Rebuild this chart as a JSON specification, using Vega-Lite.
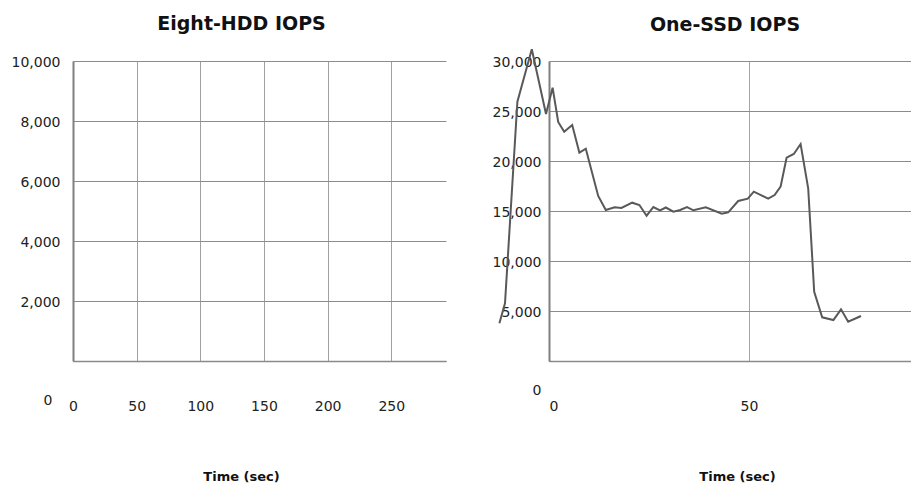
{
  "$schema": "https://vega.github.io/schema/vega-lite/v6.json",
  "background": "white",
  "padding": {"left": 11, "top": 15, "right": 0, "bottom": 0},
  "bounds": "flush",
  "spacing": 103,
  "config": {
    "view": {"stroke": null},
    "font": "DejaVu Sans",
    "axis": {"labelFont": "DejaVu Sans", "labelColor": "#222222", "titleFont": "DejaVu Sans", "titleColor": "#111111", "tickSize": 0, "labelFontSize": 14}
  },
  "datasets": {
    "ssd": [
      {"t": -12.4, "iops": 3770}, {"t": -11.0, "iops": 5770}, {"t": -7.9, "iops": 25930}, {"t": -4.3, "iops": 31170},
      {"t": -0.75, "iops": 24700}, {"t": 0.9, "iops": 27330}, {"t": 2.3, "iops": 23900}, {"t": 3.8, "iops": 22930},
      {"t": 5.8, "iops": 23600}, {"t": 7.6, "iops": 20830}, {"t": 9.2, "iops": 21230}, {"t": 12.3, "iops": 16500},
      {"t": 14.2, "iops": 15100}, {"t": 16.4, "iops": 15370}, {"t": 18.1, "iops": 15300}, {"t": 20.8, "iops": 15830},
      {"t": 22.6, "iops": 15600}, {"t": 24.4, "iops": 14530}, {"t": 26.1, "iops": 15400}, {"t": 27.75, "iops": 15070},
      {"t": 29.2, "iops": 15350}, {"t": 31.1, "iops": 14930}, {"t": 32.8, "iops": 15100}, {"t": 34.5, "iops": 15400},
      {"t": 36.1, "iops": 15070}, {"t": 39.2, "iops": 15370}, {"t": 43.2, "iops": 14730}, {"t": 44.8, "iops": 14870},
      {"t": 47.3, "iops": 16000}, {"t": 49.7, "iops": 16230}, {"t": 51.2, "iops": 16930}, {"t": 54.8, "iops": 16230},
      {"t": 56.4, "iops": 16600}, {"t": 57.9, "iops": 17430}, {"t": 59.4, "iops": 20330}, {"t": 61.2, "iops": 20700},
      {"t": 62.9, "iops": 21700}, {"t": 64.8, "iops": 17270}, {"t": 66.3, "iops": 6930}, {"t": 68.3, "iops": 4370},
      {"t": 71.1, "iops": 4100}, {"t": 73.0, "iops": 5170}, {"t": 74.8, "iops": 3930}, {"t": 78.0, "iops": 4500}
    ],
    "hdd": []
  },
  "hconcat": [
    {
      "width": 373,
      "height": 300,
      "title": {"text": "Eight-HDD IOPS", "fontSize": 19, "fontWeight": "bold", "font": "DejaVu Sans", "color": "#111111", "offset": 21, "dx": -18},
      "data": {"name": "hdd"},
      "mark": {"type": "line", "color": "#595959", "strokeWidth": 2, "clip": false},
      "encoding": {
        "x": {
          "field": "t", "type": "quantitative",
          "scale": {"domain": [0, 293], "nice": false, "zero": false},
          "axis": {
            "values": [0, 50, 100, 150, 200, 250], "format": ",d",
            "title": "Time (sec)", "titleFontSize": 13, "titleFontWeight": "bold",
            "titleX": 168, "titleY": 115, "titleBaseline": "middle", "titleAlign": "center",
            "labelPadding": 38, "labelFlush": false, "labelOverlap": false,
            "grid": true, "gridColor": "#a0a0a0", "gridWidth": 1,
            "domainColor": "#8a8a8a", "domainWidth": 1.5
          }
        },
        "y": {
          "field": "iops", "type": "quantitative",
          "scale": {"domain": [0, 10000], "nice": false},
          "axis": {
            "values": [0, 2000, 4000, 6000, 8000, 10000], "format": ",d", "title": null,
            "labelPadding": {"condition": {"test": "datum.value == 0", "value": 21}, "value": 13},
            "labelOffset": {"condition": {"test": "datum.value == 0", "value": 39}, "value": 1},
            "labelOverlap": false,
            "grid": true, "gridColor": "#8c8c8c", "gridWidth": 1,
            "domainColor": "#7f7f7f", "domainWidth": 2
          }
        }
      }
    },
    {
      "width": 362,
      "height": 300,
      "title": {"text": "One-SSD IOPS", "fontSize": 19, "fontWeight": "bold", "font": "DejaVu Sans", "color": "#111111", "offset": 10, "dx": -5},
      "data": {"name": "ssd"},
      "mark": {"type": "line", "color": "#595959", "strokeWidth": 2, "clip": false},
      "encoding": {
        "x": {
          "field": "t", "type": "quantitative",
          "scale": {"domain": [0, 90.5], "nice": false, "zero": false},
          "axis": {
            "values": [0, 50], "format": ",d",
            "title": "Time (sec)", "titleFontSize": 13, "titleFontWeight": "bold",
            "titleX": 188, "titleY": 115, "titleBaseline": "middle", "titleAlign": "center",
            "labelPadding": 38, "labelFlush": true, "labelOverlap": false,
            "grid": true, "gridColor": "#a6a6a6", "gridWidth": 1,
            "domainColor": "#8a8a8a", "domainWidth": 1.5
          }
        },
        "y": {
          "field": "iops", "type": "quantitative",
          "scale": {"domain": [0, 30000], "nice": false},
          "axis": {
            "values": [0, 5000, 10000, 15000, 20000, 25000, 30000], "format": ",d", "title": null,
            "labelPadding": 8,
            "labelOffset": {"condition": {"test": "datum.value == 0", "value": 29}, "value": 1},
            "labelOverlap": false,
            "grid": true, "gridColor": "#8c8c8c", "gridWidth": 1,
            "domainColor": "#7f7f7f", "domainWidth": 2
          }
        }
      }
    }
  ]
}
